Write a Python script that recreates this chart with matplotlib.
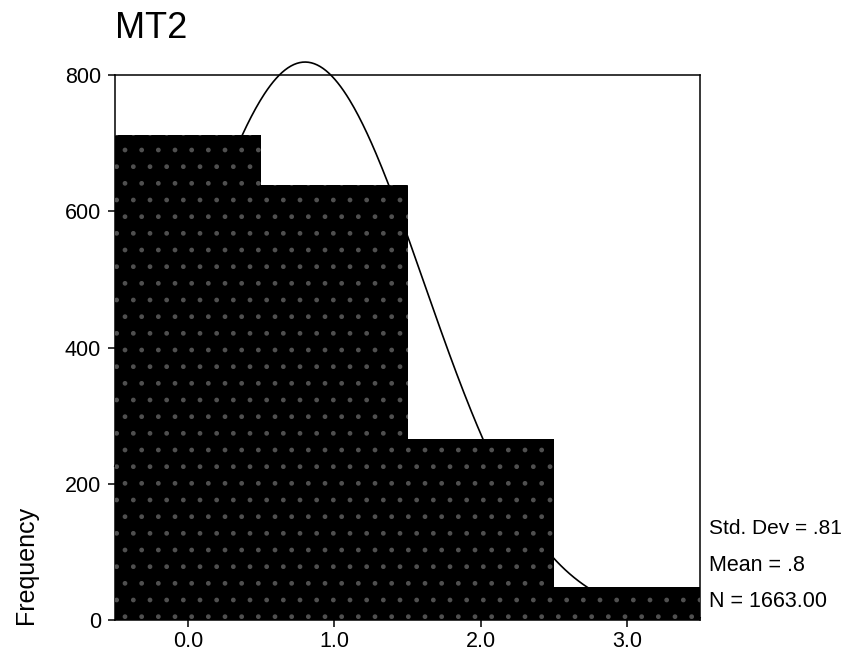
import matplotlib.pyplot as plt
import numpy as np

plt.rcParams['font.family'] = ['Liberation Sans', 'DejaVu Sans']

# MT2 frequency counts per category
categories = [0.0, 1.0, 2.0, 3.0]
counts = [712, 638, 265, 48]
tick_labels = ["0.0", "1.0", "2.0", "3.0"]
std_dev = 0.81
mean = 0.8
n_total = 1663

fig = plt.figure(figsize=(8.57, 6.57), dpi=100)
ax = fig.add_axes([0.134, 0.0563, 0.683, 0.8295])

# fitted normal curve, scaled to counts (bin width 1)
xs = np.linspace(-0.5, 3.5, 400)
ys = n_total * np.exp(-(xs - mean) ** 2 / (2 * std_dev ** 2)) / (std_dev * np.sqrt(2 * np.pi))
ax.plot(xs, ys, color='black', lw=1.2, zorder=1, clip_on=False)

ax.bar(categories, counts, width=1.0, color='black', edgecolor='black', lw=0, zorder=2)
ax.bar(categories, counts, width=1.0, facecolor='none', edgecolor='#505050', lw=0, hatch='.', zorder=3)

ax.set_xlim(-0.5, 3.5)
ax.set_ylim(0, 800)
ax.set_xticks(categories, tick_labels)
ax.set_yticks([0, 200, 400, 600, 800])
ax.tick_params(direction='out', length=5, width=1.1, labelsize=15.5)
ax.tick_params(axis='y', pad=5)
ax.tick_params(axis='x', pad=3)
for s in ax.spines.values():
    s.set_linewidth(1.1)

fig.text(0.134, 0.942, "MT2", fontsize=26, ha='left', va='baseline')
fig.text(0.03, 0.14, "Frequency", rotation=90, fontsize=18, ha='center', va='center')

fig.text(0.827, 0.196, "Std. Dev = .81", fontsize=15, va='center')
fig.text(0.827, 0.140, "Mean = .8", fontsize=15.5, va='center')
fig.text(0.827, 0.084, "N = 1663.00", fontsize=15.5, va='center')

fig.savefig("out.png", dpi=100)
